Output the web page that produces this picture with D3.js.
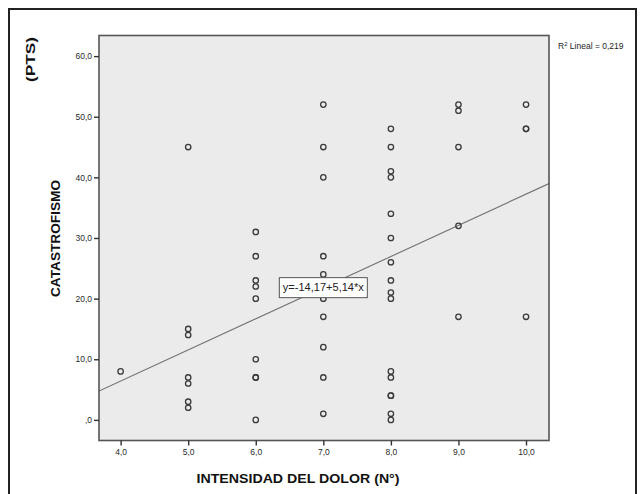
<!DOCTYPE html>
<html lang="es">
<head>
<meta charset="UTF-8">
<title>Catastrofismo vs intensidad del dolor</title>
<script src="https://cdnjs.cloudflare.com/ajax/libs/d3/7.8.5/d3.min.js"></script>
<style>
  body { margin: 0; background: #fff; }
  svg { display: block; font-family: "Liberation Sans", Arial, sans-serif; }
  .tick text { fill: #2a2a2a; font-size: 8.5px; }
  .tick line { stroke: #333; stroke-width: 1.4px; }
</style>
</head>
<body>
<script>
// pain intensity (x) and catastrophism score (y), one entry per subject
var painLevel = [4,
  5, 5, 5, 5, 5, 5, 5,
  6, 6, 6, 6, 6, 6, 6, 6, 6,
  7, 7, 7, 7, 7, 7, 7, 7, 7, 7,
  8, 8, 8, 8, 8, 8, 8, 8, 8, 8, 8, 8, 8, 8, 8, 8,
  9, 9, 9, 9, 9,
  10, 10, 10, 10];
var catastrofismo = [8,
  45, 15, 14, 7, 6, 3, 2,
  31, 27, 23, 22, 20, 10, 7, 7, 0,
  52, 45, 40, 27, 24, 20, 17, 12, 7, 1,
  48, 45, 41, 40, 34, 30, 26, 23, 21, 20, 8, 7, 4, 4, 1, 0,
  52, 51, 45, 32, 17,
  52, 48, 48, 17];

var xTicks = [4, 5, 6, 7, 8, 9, 10];
var yTicks = [0, 10, 20, 30, 40, 50, 60];

// fit line reported by SPSS
var intercept = -14.17, slope = 5.14;
var r2 = 0.219;

var W = 643, H = 494;
var plot = {left: 99, top: 35.5, right: 549, bottom: 440.5};

// spanish decimal comma, plain hyphen for minus
function dec(d, n) {
  return d3.format("." + n + "f")(d).replace("\u2212", "-").replace(".", ",");
}
function tickFmt(d) {
  var s = dec(d, 1);
  return s.indexOf("0,") === 0 ? s.slice(1) : s;
}

var x = d3.scaleLinear().domain([3.68, 10.34]).range([plot.left, plot.right]);
var y = d3.scaleLinear().domain([-3.4, 63.4]).range([plot.bottom, plot.top]);

var svg = d3.select("body").append("svg")
    .attr("width", W)
    .attr("height", H);

// outer frame
svg.append("rect")
    .attr("x", 9).attr("y", 9)
    .attr("width", 627).attr("height", 520)
    .attr("fill", "none")
    .attr("stroke", "#222")
    .attr("stroke-width", 2);

// plot background
svg.append("rect")
    .attr("x", plot.left).attr("y", plot.top)
    .attr("width", plot.right - plot.left)
    .attr("height", plot.bottom - plot.top)
    .attr("fill", "#ebebeb");

svg.append("clipPath").attr("id", "plotclip")
  .append("rect")
    .attr("x", plot.left).attr("y", plot.top)
    .attr("width", plot.right - plot.left)
    .attr("height", plot.bottom - plot.top);

// regression line
var line = d3.line()
    .x(function(d) { return x(d); })
    .y(function(d) { return y(intercept + slope * d); });

svg.append("path")
    .datum(x.domain())
    .attr("clip-path", "url(#plotclip)")
    .attr("fill", "none")
    .attr("stroke", "#707070")
    .attr("stroke-width", 1.1)
    .attr("d", line);

// points
svg.append("g")
  .selectAll("circle")
  .data(painLevel)
  .enter()
  .append("circle")
    .attr("cx", function(d) { return x(d); })
    .attr("cy", function(d, i) { return y(catastrofismo[i]); })
    .attr("r", 2.7)
    .attr("fill", "none")
    .attr("stroke", "#3a3a3a")
    .attr("stroke-width", 1.3);

// equation label sits on the line at x = 7
var lx = x(7), ly = y(intercept + slope * 7);
svg.append("rect")
    .attr("x", lx - 44).attr("y", ly - 10)
    .attr("width", 88).attr("height", 20)
    .attr("fill", "#fff")
    .attr("stroke", "#555")
    .attr("stroke-width", 1);
svg.append("text")
    .attr("x", lx).attr("y", ly + 3.5)
    .attr("text-anchor", "middle")
    .attr("fill", "#222")
    .style("font-size", "10px")
    .attr("textLength", 81)
    .attr("lengthAdjust", "spacingAndGlyphs")
    .text("y=" + dec(intercept, 2) + "+" + dec(slope, 2) + "*x");

// plot frame
svg.append("rect")
    .attr("x", plot.left).attr("y", plot.top)
    .attr("width", plot.right - plot.left)
    .attr("height", plot.bottom - plot.top)
    .attr("fill", "none")
    .attr("stroke", "#555")
    .attr("stroke-width", 1.6);

// axes
var yAxis = svg.append("g")
    .attr("transform", "translate(" + plot.left + ",0)")
    .call(d3.axisLeft(y).tickValues(yTicks).tickSize(5).tickPadding(2).tickFormat(tickFmt));
yAxis.select(".domain").remove();

var xAxis = svg.append("g")
    .attr("transform", "translate(0," + plot.bottom + ")")
    .call(d3.axisBottom(x).tickValues(xTicks).tickSize(5).tickPadding(3).tickFormat(tickFmt));
xAxis.select(".domain").remove();

// titles
svg.append("text")
    .attr("x", 298).attr("y", 483)
    .attr("text-anchor", "middle")
    .attr("font-weight", "bold")
    .attr("fill", "#111")
    .style("font-size", "13px")
    .attr("textLength", 203)
    .attr("lengthAdjust", "spacingAndGlyphs")
    .text("INTENSIDAD  DEL DOLOR (N°)");

svg.append("text")
    .attr("transform", "translate(60,238.5) rotate(-90)")
    .attr("text-anchor", "middle")
    .attr("font-weight", "bold")
    .attr("fill", "#111")
    .style("font-size", "13px")
    .attr("textLength", 117)
    .attr("lengthAdjust", "spacingAndGlyphs")
    .text("CATASTROFISMO");

svg.append("text")
    .attr("transform", "translate(35,59.5) rotate(-90)")
    .attr("text-anchor", "middle")
    .attr("font-weight", "bold")
    .attr("fill", "#111")
    .style("font-size", "13px")
    .attr("textLength", 45)
    .attr("lengthAdjust", "spacingAndGlyphs")
    .text("(PTS)");

// R squared note
var r2Text = svg.append("text")
    .attr("x", 558).attr("y", 49)
    .attr("fill", "#222")
    .style("font-size", "8.5px");
r2Text.append("tspan").text("R");
r2Text.append("tspan").attr("dy", -3).style("font-size", "6px").text("2");
r2Text.append("tspan").attr("dy", 3).text(" Lineal = " + dec(r2, 3));
</script>
</body>
</html>
